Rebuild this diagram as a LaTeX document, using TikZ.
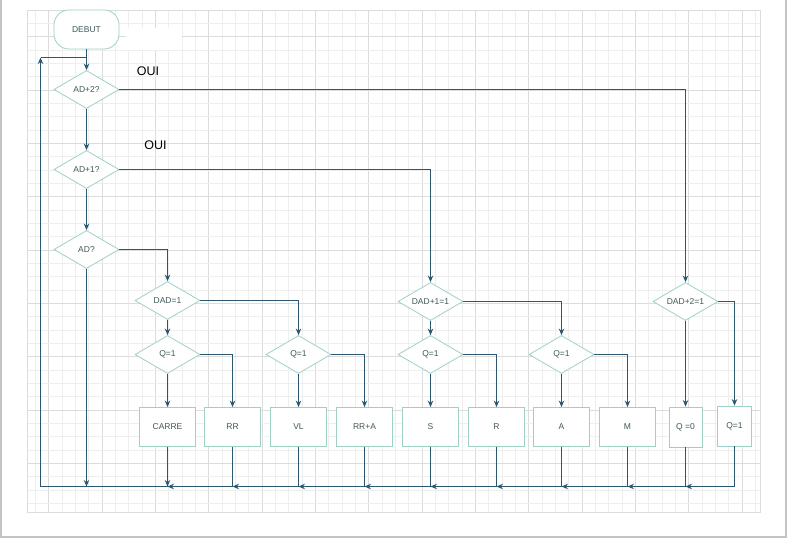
\documentclass[tikz,border=0pt]{standalone}
\usepackage{fontspec}
\setmainfont{Liberation Sans}
\usetikzlibrary{shapes.geometric,arrows.meta}
\definecolor{conn}{HTML}{2B5870}
\definecolor{shapeb}{HTML}{9FD0C6}
\definecolor{txt}{HTML}{3F5858}
\definecolor{gminor}{HTML}{EEEEEE}
\definecolor{gmajor}{HTML}{DCDCDC}
\definecolor{pageb}{HTML}{C4C4C4}
\tikzset{
  dia/.style={diamond, draw=shapeb, line width=0.8pt, fill=white, minimum width=65pt, minimum height=38pt, inner sep=0pt, aspect=1.7, text=txt, font=\fontsize{8.5}{10}\selectfont},
  boxn/.style={rectangle, draw=shapeb, line width=0.8pt, fill=white, minimum width=56pt, minimum height=39pt, inner sep=0pt, text=txt, font=\fontsize{8.5}{10}\selectfont},
  startn/.style={rectangle, rounded corners=15pt, draw=shapeb, line width=0.8pt, fill=white, minimum width=65pt, minimum height=39pt, inner sep=0pt, text=txt, font=\fontsize{8.5}{10}\selectfont},
  link/.style={draw=conn, line width=1.6pt},
  arr/.style={link, -{Stealth[length=6.5pt,width=5.5pt]}},
  ouilab/.style={font=\fontsize{12.5}{14}\selectfont, text=black, inner sep=0pt},
}
\begin{document}
\begin{tikzpicture}[x=1pt,y=-1pt]
\useasboundingbox (0,0) rectangle (788,540);
\fill[white] (0,0) rectangle (788,540);
% page edges
\draw[pageb, line width=2pt] (1,0) -- (1,537) -- (786,537) -- (786,0);
% grid
\foreach \k in {0,...,54} {
  \pgfmathsetmacro\xx{35.2+13.333*\k}
  \pgfmathtruncatemacro\mm{mod(\k,4)}
  \ifnum\mm=1 \draw[gmajor, line width=0.7pt] (\xx,10) -- (\xx,512); \else \draw[gminor, line width=0.7pt] (\xx,10) -- (\xx,512); \fi
}
\foreach \k in {1,...,37} {
  \pgfmathsetmacro\yy{10+13.333*\k}
  \pgfmathtruncatemacro\mm{mod(\k,4)}
  \ifnum\mm=2 \draw[gmajor, line width=0.7pt] (27,\yy) -- (760,\yy); \else \draw[gminor, line width=0.7pt] (27,\yy) -- (760,\yy); \fi
}
\draw[gmajor, line width=0.7pt] (27,10) rectangle (760,512);
\fill[white] (126,28) rectangle (182,50);

% nodes
\node[startn] (debut) at (86.5,29.5) {DEBUT};
\node[dia] (ad2) at (86.5,89.5) {AD+2?};
\node[dia] (ad1) at (86.5,169.5) {AD+1?};
\node[dia] (ad0) at (86.5,249.5) {AD?};
\node[dia] (dad0) at (167.5,300.5) {DAD=1};
\node[dia] (dad1) at (430.5,301.5) {DAD+1=1};
\node[dia] (dad2) at (685.5,301.5) {DAD+2=1};
\node[dia] (qa) at (167.5,354.5) {Q=1};
\node[dia] (qb) at (298.5,354.5) {Q=1};
\node[dia] (qc) at (430.5,354.5) {Q=1};
\node[dia] (qd) at (561.5,354.5) {Q=1};
\node[boxn] (carre) at (167.5,427) {CARRE};
\node[boxn] (rr) at (232.5,427) {RR};
\node[boxn] (vl) at (298.5,427) {VL};
\node[boxn] (rra) at (364.5,427) {RR+A};
\node[boxn] (s) at (430.5,427) {S};
\node[boxn] (r) at (496.5,427) {R};
\node[boxn] (a) at (561.5,427) {A};
\node[boxn] (m) at (627.5,427) {M};
\node[boxn, minimum width=33pt, minimum height=40pt] (q0) at (685.5,427) {Q =0};
\node[boxn, minimum width=34pt, minimum height=40pt] (q1) at (734.5,426) {Q=1};

\node[ouilab] (oui1) at (148,71) {OUI};
\node[ouilab] (oui2) at (155.5,145.5) {OUI};

% bottom junctions
\coordinate (j0) at (40.5,486.5);
\coordinate (jad) at (86.5,486.5);
\coordinate (jc) at (167.5,486.5);
\coordinate (jrr) at (232.5,486.5);
\coordinate (jvl) at (298.5,486.5);
\coordinate (jra) at (364.5,486.5);
\coordinate (js) at (430.5,486.5);
\coordinate (jr) at (496.5,486.5);
\coordinate (ja) at (561.5,486.5);
\coordinate (jm) at (627.5,486.5);
\coordinate (jq0) at (685.5,486.5);
\coordinate (jtop) at (40.5,57.5);
\coordinate (jjoin) at (86.5,57.5);

% main spine
\draw[arr] (debut.south) -- (ad2.north);
\draw[arr] (ad2.south) -- (ad1.north);
\draw[arr] (ad1.south) -- (ad0.north);
\draw[arr] (ad0.south) -- (jad);
\draw[arr] (ad2.east) -| (dad2.north);
\draw[arr] (ad1.east) -| (dad1.north);
\draw[arr] (ad0.east) -| (dad0.north);

% DAD level
\draw[arr] (dad0.south) -- (qa.north);
\draw[arr] (dad0.east) -| (qb.north);
\draw[arr] (dad1.south) -- (qc.north);
\draw[arr] (dad1.east) -| (qd.north);
\draw[arr] (dad2.south) -- (q0.north);
\draw[arr] (dad2.east) -| (q1.north);

% Q level
\draw[arr] (qa.south) -- (carre.north);
\draw[arr] (qa.east) -| (rr.north);
\draw[arr] (qb.south) -- (vl.north);
\draw[arr] (qb.east) -| (rra.north);
\draw[arr] (qc.south) -- (s.north);
\draw[arr] (qc.east) -| (r.north);
\draw[arr] (qd.south) -- (a.north);
\draw[arr] (qd.east) -| (m.north);

% boxes down to the return line
\draw[arr] (carre.south) -- (jc);
\draw[link] (rr.south) -- (jrr);
\draw[link] (vl.south) -- (jvl);
\draw[link] (rra.south) -- (jra);
\draw[link] (s.south) -- (js);
\draw[link] (r.south) -- (jr);
\draw[link] (a.south) -- (ja);
\draw[link] (m.south) -- (jm);
\draw[link] (q0.south) -- (jq0);
\draw[arr] (q1.south) |- (jq0);
\draw[arr] (jq0) -- (jm);
\draw[arr] (jm) -- (ja);
\draw[arr] (ja) -- (jr);
\draw[arr] (jr) -- (js);
\draw[arr] (js) -- (jra);
\draw[arr] (jra) -- (jvl);
\draw[arr] (jvl) -- (jrr);
\draw[arr] (jrr) -- (jc);
\draw[arr] (jc) -- (j0) -- (jtop);
\draw[link] (jtop) -- (jjoin);
\end{tikzpicture}
\end{document}
